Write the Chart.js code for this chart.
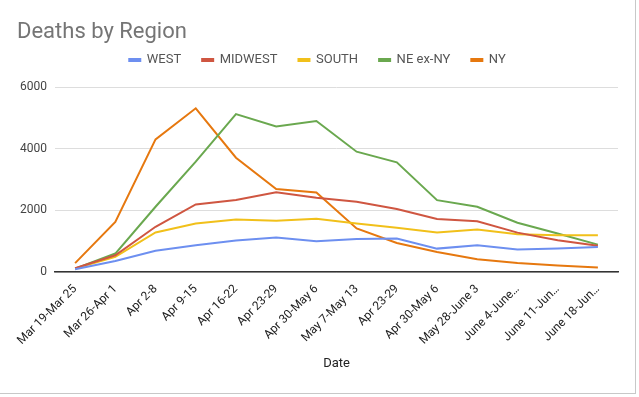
<!DOCTYPE html>
<html><head><meta charset="utf-8">
<script src="https://cdn.jsdelivr.net/npm/chart.js@4/dist/chart.umd.min.js"></script>
<style>
html,body{margin:0;padding:0;background:#fff;}
#wrap{position:absolute;left:0;top:0;width:635px;height:393px;border-right:1px solid #c8c8c8;border-bottom:1px solid #c8c8c8;}
canvas{display:block;}
</style></head><body>
<div id="wrap"><canvas id="c" width="635" height="393"></canvas></div>
<script>
const categories = ["Mar 19-Mar 25","Mar 26-Apr 1","Apr 2-8","Apr 9-15","Apr 16-22","Apr 23-29","Apr 30-May 6","May 7-May 13","Apr 23-29","Apr 30-May 6","May 28-June 3","June 4-June…","June 11-Jun…","June 18-Jun…"];
const west    = [90, 360, 690, 870, 1020, 1120, 1000, 1070, 1090, 760, 870, 730, 760, 815];
const midwest = [120, 545, 1470, 2195, 2340, 2590, 2410, 2280, 2045, 1720, 1650, 1280, 1030, 850];
const south   = [110, 490, 1285, 1575, 1705, 1665, 1730, 1575, 1435, 1285, 1380, 1230, 1195, 1195];
const neExNy  = [110, 600, 2120, 3590, 5130, 4730, 4910, 3910, 3565, 2335, 2120, 1600, 1250, 890];
const ny      = [290, 1630, 4310, 5320, 3715, 2695, 2585, 1415, 945, 650, 415, 295, 215, 145];
const yTicks  = [0, 2000, 4000, 6000];
const seriesNames = ["WEST","MIDWEST","SOUTH","NE ex-NY","NY"];
const colors = ["#6d8ff0","#cf5641","#f1c01a","#6aa84f","#e6780f"];
const seriesData = [west, midwest, south, neExNy, ny];

Chart.defaults.font.family = "Roboto, Arial, sans-serif";
const legendFix = {
  id:'legendFix',
  beforeLayout(chart){
    const lg = chart.legend;
    if(lg && !lg._patched){
      const f = lg.fit.bind(lg);
      lg.fit = function(){ f(); this.height = 42; };
      lg._patched = true;
    }
  },
  afterLayout(chart){
    const lg = chart.legend;
    if(lg){ lg.top -= 13; lg.bottom -= 13; }
  }
};
new Chart(document.getElementById('c'), {
  type: 'line',
  data: {
    labels: categories,
    datasets: seriesNames.map((n,i)=>({label:n,data:seriesData[i],borderColor:colors[i],backgroundColor:colors[i],borderWidth:2,pointRadius:0,tension:0}))
  },
  options: {
    responsive:false, animation:false,
    layout:{padding:{left:17,right:17,top:8,bottom:13}},
    plugins:{
      title:{display:true,text:"Deaths by Region",align:'start',color:'#757575',font:{size:22,weight:'normal'},padding:{top:11,bottom:0}},
      legend:{position:'top',labels:{boxWidth:11,boxHeight:2,padding:21,color:'#555',font:{size:13}}},
      tooltip:{enabled:false}
    },
    scales:{
      x:{offset:true,grid:{display:false,drawTicks:false},border:{display:true,color:'#333',width:1.5},
         ticks:{minRotation:45,maxRotation:45,autoSkip:false,color:'#222',font:{size:12},padding:10},
         title:{display:true,text:'Date',color:'#222',font:{size:13},padding:{top:4,bottom:8}},
         afterFit:(s)=>{s.height=108;}},
      y:{min:0,max:6000,grid:{color:'#ddd',drawTicks:false},border:{display:false},
         afterBuildTicks:(s)=>{s.ticks=yTicks.map(v=>({value:v}));},
         ticks:{color:'#444',font:{size:12},padding:8,callback:(v)=>String(v)},
         afterFit:(s)=>{s.width=38;}}
    }
  },
  plugins:[legendFix]
});
</script></body></html>
